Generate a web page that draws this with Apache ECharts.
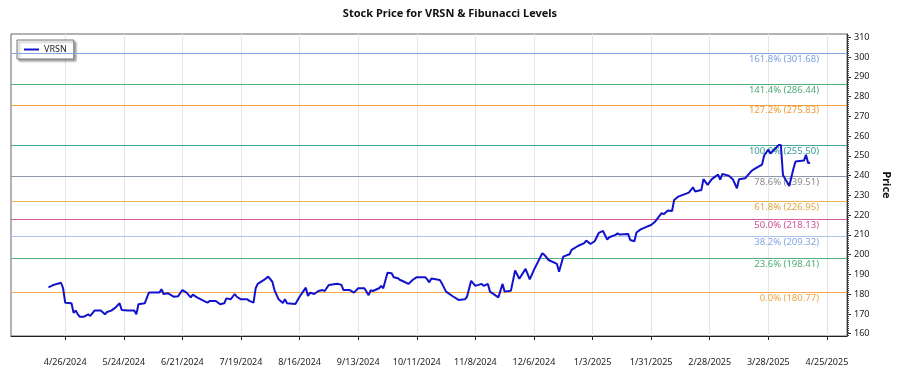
<!DOCTYPE html>
<html>
<head>
<meta charset="utf-8">
<title>VRSN Fibonacci</title>
<script src="https://cdn.jsdelivr.net/npm/echarts@6/dist/echarts.min.js"></script>
<style>
  html, body { margin: 0; padding: 0; background: #fff; }
  #chart { width: 900px; height: 375px; }
</style>
</head>
<body>
<div id="chart"></div>
<script>
// days counted from 4/26/2024 (day 0)
var dayOffsets = [
  -8, -6, -4, -2, -1, 0, 3, 4, 5, 6, 7, 9, 11, 12, 14, 17, 19, 20, 22, 24,
  26, 27, 30, 33, 34, 35, 38, 40, 42, 45, 46, 47, 49, 52, 54, 56, 58, 60, 61, 63,
  66, 68, 69, 72, 74, 76, 77, 79, 80, 81, 82, 84, 87, 88, 90, 91, 92, 95, 97, 99,
  100, 102, 104, 105, 106, 110, 112, 114, 115, 116, 117, 119, 121, 123, 124, 126, 130, 132, 133, 136,
  138, 140, 141, 143, 145, 146, 147, 150, 151, 152, 154, 156, 157, 159, 160, 161, 164, 166, 168, 172,
  173, 174, 175, 179, 180, 182, 185, 188, 191, 192, 194, 196, 199, 200, 202, 203, 207, 209, 210, 213,
  215, 217, 220, 222, 224, 228, 229, 231, 235, 236, 238, 241, 242, 245, 248, 249, 251, 253, 255, 257,
  259, 260, 263, 264, 265, 269, 270, 272, 273, 275, 278, 280, 282, 285, 286, 288, 290, 291, 293, 298,
  300, 301, 304, 305, 307, 309, 312, 313, 314, 317, 319, 321, 322, 325, 328, 329, 333, 334, 336, 337,
  341, 342, 343, 346, 348, 349, 353, 354, 355, 356
];
var prices = [
  183.5, 184.5, 185.2, 185.8, 183.0, 175.7, 175.4, 170.6, 171.7, 169.8, 168.6, 168.6, 169.8, 169.0, 171.7, 171.7, 169.8, 171.0, 171.7, 173.2,
  175.4, 172.0, 171.7, 171.7, 169.8, 174.9, 175.4, 180.8, 180.8, 180.8, 182.5, 180.1, 180.5, 178.7, 179.0, 182.1, 180.8, 178.4, 179.8, 178.4,
  176.7, 175.7, 176.6, 176.6, 174.9, 175.4, 177.9, 177.4, 178.7, 180.1, 178.7, 177.4, 177.4, 176.6, 175.7, 183.0, 185.2, 187.2, 188.9, 186.3,
  182.1, 177.4, 175.6, 177.4, 175.4, 175.0, 178.7, 181.8, 183.3, 179.1, 180.8, 180.1, 181.6, 182.1, 181.6, 184.7, 185.3, 184.7, 182.1, 182.1,
  180.8, 183.0, 183.0, 183.0, 179.5, 182.1, 181.6, 183.0, 184.2, 183.0, 190.9, 190.6, 188.6, 188.1, 187.2, 186.8, 185.2, 187.2, 188.6, 188.6,
  187.5, 186.0, 187.9, 187.2, 185.5, 181.3, 179.1, 177.1, 177.4, 178.7, 186.8, 184.2, 185.2, 184.2, 185.2, 181.3, 178.4, 185.2, 181.3, 181.8,
  192.0, 187.8, 192.8, 187.5, 192.3, 200.7, 199.9, 197.3, 195.3, 191.4, 199.0, 200.2, 202.4, 204.4, 205.8, 207.1, 205.4, 206.8, 211.0, 212.0,
  207.6, 208.8, 210.0, 210.8, 210.2, 210.5, 207.4, 206.8, 211.2, 212.8, 214.2, 215.0, 216.8, 221.0, 220.5, 222.4, 222.1, 227.7, 229.4, 231.4,
  234.1, 232.0, 232.7, 238.2, 235.3, 238.2, 240.5, 238.0, 240.8, 240.0, 238.2, 233.6, 238.2, 238.7, 242.4, 243.1, 245.6, 250.2, 253.2, 251.2,
  255.5, 255.5, 240.3, 234.8, 243.5, 247.1, 247.6, 250.5, 246.4, 246.5
];

var tickDays = [0, 28, 56, 84, 112, 140, 168, 196, 224, 252, 280, 308, 336, 364];
var tickLabels = ['4/26/2024', '5/24/2024', '6/21/2024', '7/19/2024', '8/16/2024', '9/13/2024', '10/11/2024',
  '11/8/2024', '12/6/2024', '1/3/2025', '1/31/2025', '2/28/2025', '3/28/2025', '4/25/2025'];
var priceTicks = [160, 170, 180, 190, 200, 210, 220, 230, 240, 250, 260, 270, 280, 290, 300, 310];

var fibRatios = ['0.0%', '23.6%', '38.2%', '50.0%', '61.8%', '78.6%', '100.0%', '127.2%', '141.4%', '161.8%'];
var fibPrices = [180.77, 198.41, 209.32, 218.13, 226.95, 239.51, 255.50, 275.83, 286.44, 301.68];

var fibLineColors = ['#f7a94c', '#55b07b', '#aac4ec', '#d45ba2', '#e9b552', '#8f99aa', '#42a8a2', '#f5a13e', '#55b07b', '#84a5df'];
var fibTextColors = ['#f0a440', '#4caa74', '#7fa6e0', '#cc4f98', '#dca63e', '#8a8a8a', '#2f9b96', '#f09a36', '#4caa74', '#7fa0dc'];

var font = 'Noto Sans, Open Sans, sans-serif';

var seriesData = dayOffsets.map(function(d, i) {
  return [d, prices[i]];
});

// small ticks along the price axis, one per dollar
var minorTicks = [];
for (var t = 159; t <= 311; t++) {
  minorTicks.push(t);
}

var fibMarks = fibPrices.map(function(p, i) {
  return {
    yAxis: p,
    lineStyle: { color: fibLineColors[i], width: 1.2, type: 'solid' },
    label: {
      formatter: fibRatios[i] + ' (' + p.toFixed(2) + ')',
      color: fibTextColors[i]
    }
  };
});

var option = {
  animation: false,
  textStyle: { fontFamily: font },
  title: {
    text: 'Stock Price for VRSN & Fibunacci Levels',
    left: 'center',
    top: 3,
    textStyle: { fontSize: 11, fontWeight: 'bold', color: '#111', fontFamily: font }
  },
  legend: {
    left: 17,
    top: 40,
    padding: [5, 7, 5, 7],
    icon: 'rect',
    itemWidth: 15,
    itemHeight: 2,
    backgroundColor: '#fff',
    borderColor: '#777',
    borderWidth: 1,
    borderRadius: 0,
    shadowColor: 'rgba(0,0,0,0.35)',
    shadowBlur: 2,
    shadowOffsetX: 2,
    shadowOffsetY: 2,
    textStyle: { fontSize: 9, color: '#222', fontFamily: font },
    data: ['VRSN']
  },
  grid: {
    left: 11,
    right: 42,
    top: 34,
    bottom: 39,
    show: true,
    borderColor: '#666',
    borderWidth: 1
  },
  xAxis: {
    type: 'value',
    min: -25.9,
    max: 373.6,
    axisLine: { onZero: false, lineStyle: { color: '#222' } },
    axisTick: { customValues: tickDays, length: 4, lineStyle: { color: '#222' } },
    axisLabel: {
      customValues: tickDays,
      margin: 22,
      fontSize: 9,
      color: '#222',
      fontFamily: font,
      formatter: function(v) {
        var idx = tickDays.indexOf(Math.round(v));
        return idx >= 0 ? tickLabels[idx] : '';
      }
    },
    splitLine: { show: true, lineStyle: { color: '#e6e6e6' } }
  },
  yAxis: [
    {
      type: 'value',
      position: 'right',
      min: 158.85,
      max: 311.65,
      name: 'Price',
      nameLocation: 'middle',
      nameRotate: -90,
      nameGap: 34,
      nameTextStyle: { fontSize: 11, fontWeight: 'bold', color: '#111', fontFamily: font },
      axisLine: { show: true, onZero: false, lineStyle: { color: '#222' } },
      axisTick: { show: true, customValues: priceTicks, length: 4, lineStyle: { color: '#222' } },
      axisLabel: { customValues: priceTicks, margin: 7, fontSize: 9, color: '#222', fontFamily: font },
      splitLine: { show: false }
    },
    {
      type: 'value',
      position: 'right',
      min: 158.85,
      max: 311.65,
      axisLine: { show: false, onZero: false },
      axisTick: { show: true, interval: 0, customValues: minorTicks, length: 2, lineStyle: { color: '#444' } },
      axisLabel: { show: false },
      splitLine: { show: false }
    }
  ],
  series: [
    {
      name: 'VRSN',
      type: 'line',
      yAxisIndex: 0,
      symbol: 'none',
      data: seriesData,
      lineStyle: { color: '#1212cc', width: 2 },
      itemStyle: { color: '#1212cc' },
      z: 5,
      markLine: {
        silent: true,
        symbol: ['none', 'none'],
        animation: false,
        label: {
          position: 'insideEndBottom',
          distance: [28, 1],
          fontSize: 9.5,
          fontFamily: font
        },
        data: fibMarks
      }
    }
  ]
};

var myChart = echarts.init(document.getElementById('chart'));
myChart.setOption(option);
</script>
</body>
</html>
